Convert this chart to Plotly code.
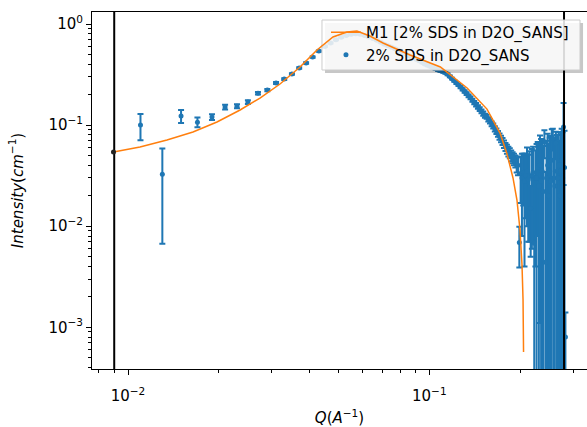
import plotly.graph_objects as go

# ---------------- data ----------------
q_data = [
    0.011, 0.013, 0.015, 0.017, 0.019, 0.021, 0.023, 0.025, 0.027, 0.029,
    0.031, 0.033, 0.035, 0.037, 0.039, 0.041, 0.043, 0.045, 0.047, 0.049,
    0.051, 0.053, 0.055, 0.057, 0.059, 0.061, 0.063, 0.065, 0.067, 0.069,
    0.071, 0.073, 0.075, 0.077, 0.079, 0.081, 0.083, 0.085, 0.087, 0.089,
    0.091, 0.093, 0.095, 0.097, 0.099, 0.101, 0.103, 0.105, 0.107, 0.109,
    0.111, 0.113, 0.115, 0.117, 0.119, 0.121, 0.123, 0.125, 0.127, 0.129,
    0.131, 0.133, 0.135, 0.137, 0.139, 0.141, 0.143, 0.145, 0.147, 0.149,
    0.151, 0.153, 0.155, 0.157, 0.159, 0.161, 0.163, 0.165, 0.167, 0.169,
    0.171, 0.173, 0.175, 0.177, 0.179, 0.181, 0.183, 0.185, 0.187, 0.189,
    0.191, 0.193, 0.195, 0.197, 0.199, 0.201, 0.203, 0.205, 0.207, 0.209,
    0.211, 0.213, 0.215, 0.217, 0.219, 0.221, 0.223, 0.225, 0.227, 0.229,
    0.231, 0.233, 0.235, 0.237, 0.239, 0.241, 0.243, 0.245, 0.247, 0.249,
    0.251, 0.253, 0.255, 0.257, 0.259, 0.261, 0.263, 0.265, 0.267, 0.269,
    0.271, 0.273, 0.275, 0.277, 0.279, 0.281, 0.283,
]
i_data = [
    0.100, 0.0327, 0.123, 0.107, 0.120, 0.151, 0.154, 0.169, 0.207, 0.222,
    0.261, 0.285, 0.320, 0.367, 0.411, 0.471, 0.540, 0.600, 0.650, 0.700,
    0.740, 0.770, 0.790, 0.800, 0.790, 0.770, 0.745, 0.720, 0.690, 0.660,
    0.630, 0.610, 0.590, 0.570, 0.550, 0.530, 0.510, 0.490, 0.475, 0.460,
    0.445, 0.430, 0.415, 0.400, 0.390, 0.380, 0.370, 0.360, 0.350, 0.345,
    0.338, 0.330, 0.318, 0.303, 0.288, 0.274, 0.261, 0.249, 0.238, 0.226,
    0.215, 0.205, 0.195, 0.186, 0.176, 0.167, 0.159, 0.151, 0.144, 0.137,
    0.130, 0.124, 0.121, 0.114, 0.109, 0.103, 0.098, 0.092, 0.087, 0.082,
    0.077, 0.073, 0.069, 0.065, 0.061, 0.058, 0.055, 0.053, 0.050, 0.048,
    0.046, 0.044, 0.041, 0.040, 0.0069, 0.033, 0.030, 0.034, 0.028, 0.032,
    0.035, 0.029, 0.031, 0.015, 0.032, 0.034, 0.0068, 0.030, 0.030, 0.038,
    0.025, 0.040, 0.028, 0.035, 0.022, 0.068, 0.0044, 0.030, 0.040, 0.020,
    0.035, 0.028, 0.045, 0.074, 0.030, 0.025, 0.066, 0.035, 0.030, 0.040,
    0.020, 0.035, 0.045, 0.030, 0.0955, 0.038, 0.0008,
]
di_data = [
    0.029, 0.026, 0.018, 0.012, 0.008, 0.008, 0.007, 0.007, 0.006, 0.006,
    0.006, 0.006, 0.006, 0.007, 0.007, 0.007, 0.008, 0.008, 0.008, 0.008,
    0.008, 0.008, 0.008, 0.008, 0.008, 0.008, 0.008, 0.007, 0.007, 0.007,
    0.007, 0.007, 0.007, 0.007, 0.007, 0.007, 0.007, 0.007, 0.007, 0.007,
    0.007, 0.007, 0.007, 0.007, 0.007, 0.007, 0.007, 0.007, 0.007, 0.007,
    0.007, 0.006, 0.006, 0.006, 0.006, 0.006, 0.006, 0.006, 0.006, 0.006,
    0.006, 0.006, 0.006, 0.006, 0.006, 0.006, 0.006, 0.006, 0.006, 0.006,
    0.006, 0.0055, 0.0055, 0.0055, 0.0055, 0.0055, 0.0055, 0.0055, 0.0055, 0.0055,
    0.0055, 0.0055, 0.0055, 0.0055, 0.0055, 0.006, 0.006, 0.006, 0.006, 0.006,
    0.006, 0.006, 0.007, 0.008, 0.003, 0.016, 0.022, 0.018, 0.024, 0.020,
    0.025, 0.022, 0.024, 0.010, 0.026, 0.027, 0.025, 0.026, 0.035, 0.030,
    0.040, 0.0389, 0.045, 0.036, 0.040, 0.021, 0.030, 0.040, 0.042, 0.045,
    0.040, 0.050, 0.046, 0.018, 0.045, 0.050, 0.020, 0.045, 0.050, 0.045,
    0.050, 0.050, 0.047, 0.055, 0.070, 0.050, 0.0006,
]

q_model = [
    0.00895, 0.01096, 0.01347, 0.01643, 0.01974, 0.02355, 0.02742, 0.03195,
    0.03723, 0.04239, 0.0479, 0.0533, 0.0575, 0.0635, 0.0702, 0.0863,
    0.1088, 0.1335, 0.1554, 0.1717, 0.1811, 0.1896, 0.1954, 0.2000,
    0.2031, 0.2047, 0.2055,
]
i_model = [
    0.0542, 0.0607, 0.0713, 0.0855, 0.1074, 0.141, 0.185, 0.255,
    0.3756, 0.553, 0.744, 0.834, 0.852, 0.761, 0.649, 0.4935,
    0.3756, 0.233, 0.144, 0.0835, 0.0518, 0.0300, 0.01816, 0.00917,
    0.00413, 0.00186, 0.00057,
]

fit_range = [0.009, 0.28]

series_names = ["2% SDS in D2O_SANS", "M1 [2% SDS in D2O_SANS]"]

x_tick_vals = [0.01, 0.1]
x_tick_text = ["10<sup>−2</sup>", "10<sup>−1</sup>"]
y_tick_vals = [1, 0.1, 0.01, 0.001]
y_tick_text = ["10<sup>0</sup>", "10<sup>−1</sup>", "10<sup>−2</sup>", "10<sup>−3</sup>"]

# ---------------- styling ----------------
BLUE = "#1f77b4"
ORANGE = "#ff7f0e"
FONT = "DejaVu Sans"
X_RANGE = [-2.1195, -0.4766]
Y_RANGE = [-3.4125, 0.1187]

x_minor = [0.008, 0.009] + [k / 100 for k in range(2, 10)] + [0.2, 0.3]
y_minor = [k * 10 ** e for e in (-4, -3, -2, -1) for k in range(2, 10)]

# legend frame in axes-fraction coordinates
LBOX = (0.4646, 0.9859, 0.8375, 0.9776)
SHADOW_DX, SHADOW_DY = 0.0061, -0.0084


def rect(x0, x1, y0, y1):
    return [x0, x1, x1, x0, x0], [y0, y0, y1, y1, y0]


fig = go.Figure()

# data with error bars (bottom layer)
fig.add_trace(go.Scatter(
    x=q_data, y=i_data, mode="markers", name=series_names[0],
    marker=dict(color=BLUE, size=5),
    error_y=dict(type="data", array=di_data, color=BLUE, thickness=2, width=3),
    legendrank=2, xaxis="x", yaxis="y",
))

# fit range lines
for q in fit_range:
    fig.add_trace(go.Scatter(
        x=[q, q], y=[0, 1], mode="lines", line=dict(color="black", width=2),
        showlegend=False, hoverinfo="skip", xaxis="x2", yaxis="y2",
    ))

# legend frame (between data and model)
sx, sy = rect(LBOX[0] + SHADOW_DX, LBOX[1] + SHADOW_DX, LBOX[2] + SHADOW_DY, LBOX[3] + SHADOW_DY)
fig.add_trace(go.Scatter(
    x=sx, y=sy, mode="lines", fill="toself", fillcolor="rgba(0,0,0,0.22)",
    line=dict(width=0), showlegend=False, hoverinfo="skip", xaxis="x3", yaxis="y3",
))
bx, by = rect(*LBOX)
fig.add_trace(go.Scatter(
    x=bx, y=by, mode="lines", fill="toself", fillcolor="rgba(255,255,255,0.85)",
    line=dict(width=1, color="#cccccc"), showlegend=False, hoverinfo="skip",
    xaxis="x3", yaxis="y3",
))

# model line (top)
fig.add_trace(go.Scatter(
    x=q_model, y=i_model, mode="lines", name=series_names[1],
    line=dict(color=ORANGE, width=1.5), legendrank=1, xaxis="x4", yaxis="y4",
))
fig.add_trace(go.Scatter(
    x=q_model[:1], y=i_model[:1], mode="markers",
    marker=dict(color="#222222", size=5), showlegend=False, hoverinfo="skip",
    xaxis="x4", yaxis="y4",
))

axis_common = dict(showgrid=False, zeroline=False)
fig.update_layout(
    width=587, height=427,
    margin=dict(l=92, r=0, t=12, b=58),
    paper_bgcolor="white", plot_bgcolor="white",
    font=dict(family=FONT, size=15, color="black"),
    showlegend=True,
    legend=dict(
        x=0.4727, y=0.9888, xanchor="left", yanchor="top",
        bgcolor="rgba(0,0,0,0)", borderwidth=0,
        font=dict(family=FONT, size=15, color="black"),
        tracegroupgap=0,
    ),
    xaxis=dict(
        type="log", range=X_RANGE, autorange=False,
        showline=True, linecolor="black", linewidth=1, mirror=True,
        ticks="outside", ticklen=5, tickwidth=1, tickcolor="black",
        tickmode="array", tickvals=x_tick_vals, ticktext=x_tick_text,
        ticklabelstandoff=8,
        minor=dict(ticks="outside", ticklen=3, tickwidth=1, tickcolor="black",
                   tickmode="array", tickvals=x_minor, showgrid=False),
        title=dict(text="<i>Q</i>(<i>A</i><sup>−1</sup>)", standoff=12,
                   font=dict(family=FONT, size=15)),
        **axis_common,
    ),
    yaxis=dict(
        type="log", range=Y_RANGE, autorange=False,
        showline=True, linecolor="black", linewidth=1,
        ticks="outside", ticklen=5, tickwidth=1, tickcolor="black",
        tickmode="array", tickvals=y_tick_vals, ticktext=y_tick_text,
        minor=dict(ticks="outside", ticklen=3, tickwidth=1, tickcolor="black",
                   tickmode="array", tickvals=y_minor, showgrid=False),
        title=dict(text="<i>Intensity</i>(<i>cm</i><sup>−1</sup>)", standoff=21,
                   font=dict(family=FONT, size=15)),
        **axis_common,
    ),
    xaxis2=dict(type="log", range=X_RANGE, autorange=False, overlaying="x", visible=False, **axis_common),
    yaxis2=dict(range=[0, 1], autorange=False, overlaying="y", visible=False, **axis_common),
    xaxis3=dict(range=[0, 1], autorange=False, overlaying="x", visible=False, **axis_common),
    yaxis3=dict(range=[0, 1], autorange=False, overlaying="y", visible=False, **axis_common),
    xaxis4=dict(type="log", range=X_RANGE, autorange=False, overlaying="x", visible=False, **axis_common),
    yaxis4=dict(type="log", range=Y_RANGE, autorange=False, overlaying="y", visible=False, **axis_common),
)

fig.write_html(
    "out.html",
    config={"displayModeBar": False},
    post_script="document.body.style.margin='0';document.body.style.overflow='hidden';",
)
